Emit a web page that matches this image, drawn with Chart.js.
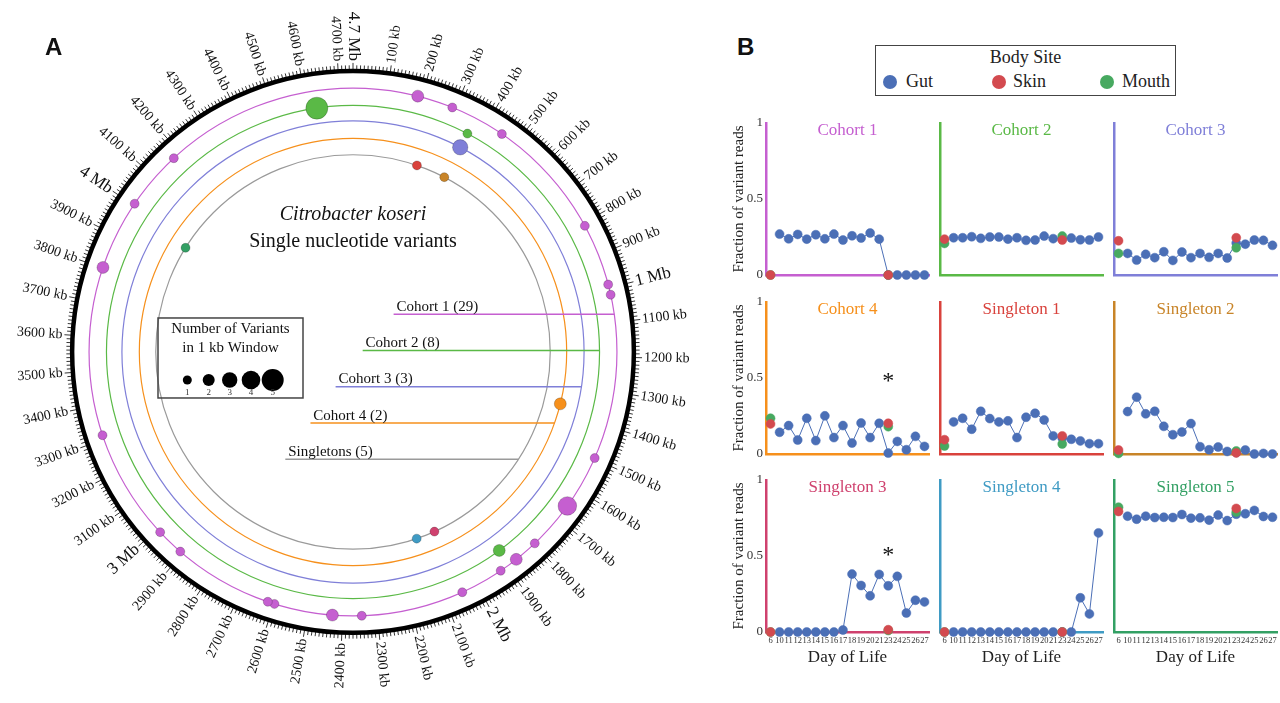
<!DOCTYPE html>
<html>
<head>
<meta charset="utf-8">
<script src="https://cdn.jsdelivr.net/npm/chart.js@4.4.1/dist/chart.umd.min.js"></script>
<style>
  body { margin: 0; background: #fff; overflow: hidden; }
  #page { position: relative; width: 1280px; height: 703px; font-family: 'Liberation Serif', 'Times New Roman', serif; color: #222; }
  canvas { position: absolute; }
  .tag { position: absolute; font: bold 24px 'Liberation Sans', Arial, sans-serif; color: #111; }
  #legendB { position: absolute; left: 875px; top: 45px; width: 299px; height: 49px; border: 1.5px solid #444; }
  #legendB .ttl { position: absolute; left: 0; width: 100%; top: 1px; text-align: center; font-size: 18px; line-height: 20px; }
  #legendB .dot { position: absolute; top: 29px; width: 14px; height: 14px; border-radius: 50%; }
  #legendB .lab { position: absolute; top: 25px; font-size: 18px; line-height: 20px; }
</style>
</head>
<body>
<div id="page">
  <canvas id="ringA" width="706" height="703" style="left:0;top:0"></canvas>
  <div class="tag" style="left:45px;top:33px">A</div>
  <div class="tag" style="left:737px;top:33px">B</div>
  <div id="legendB">
    <div class="ttl">Body Site</div>
    <span class="dot" style="left:7px;background:#4b6fb6"></span><span class="lab" style="left:30px">Gut</span>
    <span class="dot" style="left:116px;background:#d34a4f"></span><span class="lab" style="left:137px">Skin</span>
    <span class="dot" style="left:224px;background:#47a960"></span><span class="lab" style="left:246px">Mouth</span>
  </div>
</div>
<script>
// ---- panel A data: variant windows (kb along the genome) and variant counts ----
const genomeKb = 4740;
const cohort1Kb = [187, 291, 452, 809, 990, 1020, 1497, 1655, 1797, 1867, 1922, 2048, 2345, 2429, 2598, 2618, 2908, 2988, 3313, 3801, 4005, 4177];
const cohort1Count = [2, 1, 1, 1, 1, 1, 1, 4, 1, 2, 1, 1, 1, 2, 1, 1, 1, 1, 1, 2, 1, 1];
const cohort2Kb = [364, 1891, 4629];
const cohort2Count = [1, 2, 5];
const cohort3Kb = [364];
const cohort3Count = [3];
const cohort4Kb = [1370];
const cohort4Count = [2];
const singletonKb = [249, 363, 2049, 2122, 3975];
const singletonCount = [1, 1, 1, 1, 1];
const ringNames = ['Cohort 1 (29)', 'Cohort 2 (8)', 'Cohort 3 (3)', 'Cohort 4 (2)', 'Singletons (5)'];
const mbLabels = [[1000, '1 Mb'], [2000, '2 Mb'], [3000, '3 Mb'], [4000, '4 Mb'], [4740, '4.7 Mb']];
const legendCounts = [1, 2, 3, 4, 5];

// ---- panel B data ----
const days = ['6', '10', '11', '12', '13', '14', '15', '16', '17', '18', '19', '20', '21', '23', '24', '25', '26', '27'];
const swabDays = ['6', '23'];
const panelTitles = ['Cohort 1', 'Cohort 2', 'Cohort 3', 'Cohort 4', 'Singleton 1', 'Singleton 2', 'Singleton 3', 'Singleton 4', 'Singleton 5'];
const gutCohort1 = [null, 0.269, 0.238, 0.267, 0.236, 0.265, 0.238, 0.269, 0.23, 0.258, 0.243, 0.276, 0.236, 0, 0, 0, 0, 0];
const gutCohort2 = [null, 0.245, 0.245, 0.252, 0.241, 0.25, 0.25, 0.236, 0.245, 0.228, 0.23, 0.256, 0.239, 0.238, 0.243, 0.232, 0.23, 0.25];
const gutCohort3 = [null, 0.142, 0.098, 0.136, 0.114, 0.153, 0.096, 0.151, 0.114, 0.142, 0.116, 0.142, 0.112, 0.21, 0.203, 0.23, 0.228, 0.195];
const gutCohort4 = [null, 0.143, 0.187, 0.092, 0.235, 0.088, 0.251, 0.108, 0.187, 0.072, 0.204, 0.108, 0.202, 0.006, 0.083, 0.028, 0.116, 0.05];
const gutSingleton1 = [null, 0.211, 0.235, 0.163, 0.281, 0.233, 0.211, 0.218, 0.108, 0.242, 0.268, 0.224, 0.119, 0.105, 0.097, 0.086, 0.068, 0.068];
const gutSingleton2 = [null, 0.279, 0.374, 0.264, 0.281, 0.182, 0.127, 0.145, 0.2, 0.048, 0.028, 0.046, 0.017, 0.01, 0.026, 0, 0.004, 0];
const gutSingleton3 = [null, 0, 0, 0, 0, 0, 0, 0, 0.013, 0.381, 0.306, 0.238, 0.379, 0.304, 0.366, 0.125, 0.209, 0.198];
const gutSingleton4 = [null, 0, 0, 0, 0, 0, 0, 0, 0, 0, 0, 0, 0, 0, 0, 0.225, 0.119, 0.652];
const gutSingleton5 = [null, 0.762, 0.742, 0.762, 0.753, 0.755, 0.753, 0.773, 0.749, 0.751, 0.736, 0.769, 0.733, 0.775, 0.778, 0.8, 0.76, 0.755];
const gutSeries = [gutCohort1, gutCohort2, gutCohort3, gutCohort4, gutSingleton1, gutSingleton2, gutSingleton3, gutSingleton4, gutSingleton5];
const skinDay6 = [0, 0.236, 0.225, 0.198, 0.094, 0.026, 0, 0, 0.793];
const skinDay23 = [0, 0.23, 0.245, 0.202, 0.119, 0.007, 0.015, 0, 0.813];
const mouthDay6 = [0, 0.208, 0.142, 0.235, 0.053, 0.004, 0, 0, 0.821];
const mouthDay23 = [0, 0.256, 0.179, 0.18, 0.066, 0.02, 0.01, 0, 0.789];
const starValue = [null, null, null, 0.5, null, null, 0.53, null, null];
const yTickText = { 0: '0', 0.5: '0.5', 1: '1' };

// ---- styles / layout ----
const panelColors = ['#c55fd0', '#5ab946', '#7f7fd8', '#f6901c', '#d9423c', '#c88428', '#cf416e', '#3f9bc4', '#33a064'];
const ringColors = ['#c55fd0', '#5ab946', '#7f7fd8', '#f6901c', '#9a9a9a'];
const ringRadius = [273, 255, 239, 221, 204];
const sizeByCount = [0, 4.5, 6, 7.7, 9.3, 11];
const gutColor = '#4b6fb6', skinColor = '#d34a4f', mouthColor = '#47a960';
const colX = [766, 940, 1114];
const rowTop = [123, 302, 480];
const serif = "'Liberation Serif', 'Times New Roman', serif";

Chart.defaults.font.family = serif;
Chart.defaults.color = '#333';

function ringPoints(kbList, counts, ringIdx) {
    return kbList.map((kb, j) => {
        const t = kb / genomeKb * Math.PI * 2;
        const R = ringRadius[ringIdx];
        return { x: R * Math.sin(t), y: R * Math.cos(t), r: sizeByCount[counts[j]] };
    });
}

const genomeRing = {
    id: 'genomeRing',
    beforeDatasetsDraw(chart) {
        const { ctx } = chart;
        const sx = chart.scales.x, sy = chart.scales.y;
        const cx = sx.getPixelForValue(0), cy = sy.getPixelForValue(0);
        const u = sx.getPixelForValue(1) - cx;
        const ang = kb => kb / genomeKb * Math.PI * 2;
        ctx.save();

        // outer genome circle
        ctx.strokeStyle = '#000';
        ctx.lineWidth = 4.5;
        ctx.beginPath();
        ctx.arc(cx, cy, 290.5 * u, 0, Math.PI * 2);
        ctx.stroke();

        ctx.lineWidth = 0.8;
        for (let kb = 0; kb < genomeKb; kb += 10) {
            const t = ang(kb), len = kb % 100 === 0 ? 7 : 4.5;
            const s = Math.sin(t), c = Math.cos(t);
            ctx.beginPath();
            ctx.moveTo(cx + s * 292 * u, cy - c * 292 * u);
            ctx.lineTo(cx + s * (292 + len) * u, cy - c * (292 + len) * u);
            ctx.stroke();
        }

        // tick labels
        const labels = [];
        for (let kb = 100; kb < genomeKb; kb += 100) {
            if (kb % 1000 !== 0) labels.push([kb, kb + ' kb', 14]);
        }
        mbLabels.forEach(m => labels.push([m[0], m[1], 17]));
        ctx.fillStyle = '#111';
        ctx.textBaseline = 'middle';
        labels.forEach(([kb, text, size]) => {
            const t = ang(kb);
            ctx.save();
            ctx.translate(cx, cy);
            ctx.font = size + 'px ' + serif;
            if (t < Math.PI) {
                ctx.rotate(t - Math.PI / 2);
                ctx.textAlign = 'left';
                ctx.fillText(text, 301 * u, 0);
            } else {
                ctx.rotate(t + Math.PI / 2);
                ctx.textAlign = 'right';
                ctx.fillText(text, -301 * u, 0);
            }
            ctx.restore();
        });

        // variant rings
        ctx.lineWidth = 1.2;
        ringRadius.forEach((R, i) => {
            ctx.strokeStyle = ringColors[i];
            ctx.beginPath();
            ctx.arc(cx, cy, R * u, 0, Math.PI * 2);
            ctx.stroke();
        });

        // ring name lines
        const lineStart = [42, 10, -18, -44, -70];
        ctx.font = '15px ' + serif;
        ctx.textAlign = 'left';
        ctx.textBaseline = 'alphabetic';
        ringNames.forEach((name, i) => {
            const ly = 39 - 37.5 * i;
            const rx = Math.sqrt(ringRadius[i] * ringRadius[i] - ly * ly);
            const y = cy - ly * u;
            ctx.strokeStyle = ringColors[i];
            ctx.lineWidth = 1.5;
            ctx.beginPath();
            ctx.moveTo(cx + lineStart[i] * u, y);
            ctx.lineTo(cx + rx * u, y);
            ctx.stroke();
            ctx.fillStyle = '#111';
            ctx.fillText(name, cx + (lineStart[i] + 3) * u, y - 3.5);
        });

        // centre title
        ctx.textAlign = 'center';
        ctx.textBaseline = 'middle';
        ctx.font = 'italic 20px ' + serif;
        ctx.fillText('Citrobacter koseri', cx, cy - 137);
        ctx.font = '20px ' + serif;
        ctx.fillText('Single nucleotide variants', cx, cy - 110);

        // size legend
        ctx.strokeStyle = '#444';
        ctx.lineWidth = 1.5;
        ctx.strokeRect(cx - 195, cy - 34, 145, 80);
        ctx.font = '15px ' + serif;
        ctx.fillText('Number of Variants', cx - 122.5, cy - 23);
        ctx.fillText('in 1 kb Window', cx - 122.5, cy - 3.5);
        const lx = [-165.7, -144.3, -123.3, -102, -80.3];
        ctx.font = '9px ' + serif;
        legendCounts.forEach((n, i) => {
            ctx.fillStyle = '#000';
            ctx.beginPath();
            ctx.arc(cx + lx[i], cy + 28, sizeByCount[n], 0, Math.PI * 2);
            ctx.fill();
            ctx.fillStyle = '#333';
            ctx.fillText(String(n), cx + lx[i], cy + 41);
        });
        ctx.restore();
    }
};

function ringDataset(points, colors) {
    return {
        data: points,
        backgroundColor: colors,
        borderColor: 'rgba(0,0,0,0.3)',
        borderWidth: 0.7,
        clip: false
    };
}

new Chart(document.getElementById('ringA'), {
    type: 'bubble',
    data: {
        datasets: [
            ringDataset(ringPoints(cohort1Kb, cohort1Count, 0), ringColors[0]),
            ringDataset(ringPoints(cohort2Kb, cohort2Count, 1), ringColors[1]),
            ringDataset(ringPoints(cohort3Kb, cohort3Count, 2), ringColors[2]),
            ringDataset(ringPoints(cohort4Kb, cohort4Count, 3), ringColors[3]),
            ringDataset(ringPoints(singletonKb, singletonCount, 4), panelColors.slice(4))
        ]
    },
    options: {
        responsive: false,
        animation: false,
        events: [],
        layout: { padding: 0 },
        plugins: { legend: { display: false }, tooltip: { enabled: false } },
        scales: {
            x: { display: false, min: -353, max: 353 },
            y: { display: false, min: -351, max: 352 }
        }
    },
    plugins: [genomeRing]
});

// ---- panel B small multiples ----
const panelText = {
    id: 'panelText',
    afterDatasetsDraw(chart, args, opts) {
        const { ctx, chartArea } = chart;
        ctx.save();
        ctx.textAlign = 'center';
        ctx.textBaseline = 'middle';
        ctx.font = '17px ' + serif;
        ctx.fillStyle = opts.color;
        ctx.fillText(opts.title, (chartArea.left + chartArea.right) / 2, chartArea.top + 8);
        if (opts.star !== null) {
            ctx.fillStyle = '#111';
            ctx.font = '24px ' + serif;
            ctx.fillText('*', chart.scales.x.getPixelForValue(days.indexOf('23')), chart.scales.y.getPixelForValue(opts.star) + 4);
        }
        ctx.restore();
    }
};

const page = document.getElementById('page');

function pointSet(label, data, color, extra) {
    return Object.assign({
        label: label,
        data: data,
        showLine: false,
        pointRadius: 4.5,
        pointBackgroundColor: color,
        pointBorderColor: color,
        pointBorderWidth: 0.5,
        clip: false
    }, extra || {});
}

panelTitles.forEach((title, i) => {
    const col = i % 3, row = Math.floor(i / 3);
    const canvas = document.createElement('canvas');
    canvas.width = 217;
    canvas.height = 204;
    canvas.style.left = (colX[col] - 46) + 'px';
    canvas.style.top = (rowTop[row] - 12) + 'px';
    page.appendChild(canvas);
    const color = panelColors[i];

    new Chart(canvas, {
        type: 'line',
        data: {
            labels: days,
            datasets: [
                pointSet('Skin', [{ x: swabDays[0], y: skinDay6[i] }, { x: swabDays[1], y: skinDay23[i] }], skinColor),
                pointSet('Mouth', [{ x: swabDays[0], y: mouthDay6[i] }, { x: swabDays[1], y: mouthDay23[i] }], mouthColor),
                pointSet('Gut', gutSeries[i], gutColor, { showLine: true, borderColor: gutColor, borderWidth: 1 })
            ]
        },
        options: {
            responsive: false,
            animation: false,
            events: [],
            layout: { padding: { top: 12, right: 8, left: 0, bottom: 0 } },
            plugins: {
                legend: { display: false },
                tooltip: { enabled: false },
                panelText: { title: title, color: color, star: starValue[i] }
            },
            scales: {
                x: {
                    offset: true,
                    grid: { display: false, drawTicks: false },
                    border: { color: color, width: 2.5 },
                    ticks: { display: row === 2, autoSkip: false, maxRotation: 0, minRotation: 0, padding: 4, font: { size: 8.5 }, color: '#333' },
                    title: { display: row === 2, text: 'Day of Life', font: { size: 17 }, color: '#222', padding: { top: 0, bottom: 4 } },
                    afterFit: s => { s.height = 40; }
                },
                y: {
                    min: 0,
                    max: 1,
                    grid: { display: false, drawTicks: false },
                    border: { color: color, width: 2.5 },
                    ticks: { display: col === 0, stepSize: 0.5, padding: 3, font: { size: 13 }, color: '#333', callback: v => yTickText[v] },
                    title: { display: col === 0, text: 'Fraction of variant reads', font: { size: 15 }, color: '#222', padding: { top: 10, bottom: 0 } },
                    afterFit: s => { s.width = 46; }
                }
            }
        },
        plugins: [panelText]
    });
});
</script>
</body>
</html>
